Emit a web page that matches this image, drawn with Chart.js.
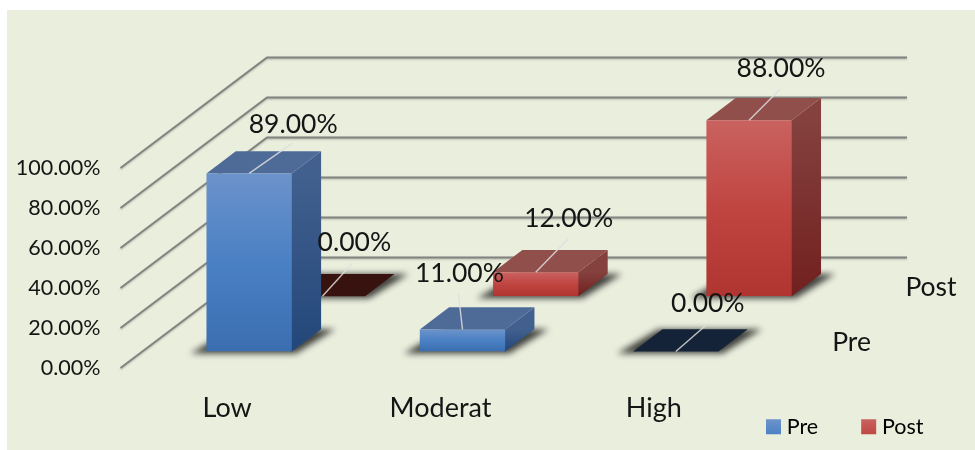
<!DOCTYPE html>
<html>
<head>
<meta charset="utf-8">
<style>
  html, body { margin: 0; background: #fff; }
  canvas { display: block; }
</style>
<script src="https://cdn.jsdelivr.net/npm/chart.js@4"></script>
</head>
<body>
<canvas id="chart" width="975" height="450"></canvas>
<script>
const categories = ['Low', 'Moderat', 'High'];
const seriesNames = ['Pre', 'Post'];
const preValues = [89, 11, 0];
const postValues = [0, 12, 88];
const yTicks = [0, 20, 40, 60, 80, 100];

const FONT = 'Lato, sans-serif';
const DEPTH_X = 146.5;  // how far the back wall sits from the floor's front edge
const DEPTH_Y = 110.5;
const BAR_DEPTH = 0.2;

const colors = [
  { front: ['#6c93cb', '#4a80c4', '#3a6eb1'], side: ['#41608e', '#23477a'], top: '#4e6b98', empty: '#152338' },
  { front: ['#c9625f', '#c04541', '#b0342f'], side: ['#84413e', '#71201f'], top: '#914f4c', empty: '#38120f' },
];

// [leader dx, leader dy, text dx, text dy] from the middle of each bar's top front edge
const labelOffsets = [
  [[43, -30, 44, -49], [-4, -35, -3, -56], [31, -27, 32, -48]],
  [[30, -33, 32, -54], [32, -33, 33, -54], [31, -31, 32, -52]],
];

function pct(v) {
  return v.toFixed(2) + '%';
}

function frontGradient(ctx) {
  const y = ctx.chart.scales.y;
  const v = ctx.dataset.data[ctx.dataIndex];
  const stops = colors[ctx.datasetIndex].front;
  const g = ctx.chart.ctx.createLinearGradient(0, y.getPixelForValue(v), 0, y.getPixelForValue(0));
  g.addColorStop(0, stops[0]);
  g.addColorStop(0.5, stops[1]);
  g.addColorStop(1, stops[2]);
  return g;
}

function poly(ctx, pts, fill) {
  ctx.beginPath();
  pts.forEach((p, i) => (i ? ctx.lineTo(p[0], p[1]) : ctx.moveTo(p[0], p[1])));
  ctx.closePath();
  ctx.fillStyle = fill;
  ctx.fill();
}

function rowDepth(datasetIndex) {
  return (datasetIndex + 0.5) / seriesNames.length - BAR_DEPTH / 2;
}

const threeD = {
  id: 'threeD',
  beforeDraw(chart) {
    const ctx = chart.ctx;
    ctx.save();
    ctx.fillStyle = '#eaeedd';
    ctx.fillRect(7, 10, 968, 440);
    ctx.restore();
  },
  afterLayout(chart) {
    // legend sits under the right end of the floor, outside the plot padding
    const l = chart.legend;
    l.left = 723;
    l.right = 975;
    l.top = 368;
  },
  beforeDatasetsDraw(chart) {
    const { ctx, scales: { x, y } } = chart;
    ctx.save();
    ctx.strokeStyle = '#828380';
    ctx.lineWidth = 1.8;
    ctx.shadowColor = 'rgba(0,0,0,0.25)';
    ctx.shadowBlur = 2;
    ctx.shadowOffsetY = 1;
    y.ticks.forEach((t) => {
      const py = y.getPixelForValue(t.value);
      ctx.beginPath();
      ctx.moveTo(x.left, py);
      ctx.lineTo(x.left + DEPTH_X, py - DEPTH_Y);
      ctx.lineTo(x.right + DEPTH_X, py - DEPTH_Y);
      ctx.stroke();
    });
    ctx.restore();
  },
  beforeDatasetDraw(chart, args) {
    const ctx = chart.ctx;
    const c = colors[args.index];
    const d0 = rowDepth(args.index);
    const fx = d0 * DEPTH_X, fy = d0 * DEPTH_Y;
    const bx = BAR_DEPTH * DEPTH_X, by = BAR_DEPTH * DEPTH_Y;
    args.meta.data.forEach((el, j) => {
      const l = el.x - el.width / 2 + fx, r = el.x + el.width / 2 + fx;
      const t = el.y - fy, b = el.base - fy;
      // soft shadow on the floor
      ctx.save();
      ctx.filter = 'blur(3px)';
      poly(ctx, [[l - 16, b + 2], [r + 4, b + 2], [r + bx + 14, b - by], [l + bx - 4, b - by]], 'rgba(0,0,0,0.72)');
      ctx.restore();
      const side = ctx.createLinearGradient(0, t, 0, b);
      side.addColorStop(0, c.side[0]);
      side.addColorStop(1, c.side[1]);
      // runs a pixel under the front face so the shadow can't show through the seam
      if (b - t > 0.5) poly(ctx, [[r - 1, t], [r, t], [r + bx, t - by], [r + bx, b - by], [r, b], [r - 1, b]], side);
      const v = chart.data.datasets[args.index].data[j];
      poly(ctx, [[l, t], [l + bx, t - by], [r + bx, t - by], [r, t]], v === 0 ? c.empty : c.top);
    });
    // the library draws the front faces, moved forward along the depth axis
    ctx.save();
    ctx.translate(fx, -fy);
  },
  afterDatasetDraw(chart) {
    chart.ctx.restore();
  },
  afterDatasetsDraw(chart) {
    const { ctx, scales: { x, y } } = chart;
    ctx.save();
    ctx.textAlign = 'center';
    ctx.textBaseline = 'middle';
    chart.data.datasets.forEach((ds, i) => {
      const d0 = rowDepth(i);
      chart.getDatasetMeta(i).data.forEach((el, j) => {
        const o = labelOffsets[i][j];
        const px = el.x + d0 * DEPTH_X, py = el.y - d0 * DEPTH_Y;
        ctx.strokeStyle = 'rgba(222,222,222,0.85)';
        ctx.lineWidth = 1.4;
        ctx.beginPath();
        ctx.moveTo(px, py);
        ctx.lineTo(px + o[0], py + o[1]);
        ctx.stroke();
        ctx.fillStyle = '#151515';
        ctx.font = '26.5px ' + FONT;
        ctx.fillText(pct(ds.data[j]), px + o[2], py + o[3]);
      });
    });
    // depth axis names next to the floor
    ctx.textAlign = 'left';
    ctx.font = '26.5px ' + FONT;
    seriesNames.forEach((name, i) => {
      const d = (i + 0.5) / seriesNames.length;
      ctx.fillText(name, x.right + d * DEPTH_X + 35, y.getPixelForValue(0) - d * DEPTH_Y + 2);
    });
    ctx.restore();
  },
};

new Chart(document.getElementById('chart'), {
  type: 'bar',
  data: {
    labels: categories,
    datasets: [
      { label: seriesNames[0], data: preValues, backgroundColor: frontGradient },
      { label: seriesNames[1], data: postValues, backgroundColor: frontGradient },
    ],
  },
  options: {
    responsive: false,
    animation: false,
    layout: { padding: { top: 168, right: 214.5, bottom: 0, left: 0 } },
    datasets: {
      bar: {
        grouped: false,
        categoryPercentage: 0.4,
        barPercentage: 1,
        borderWidth: 0,
      },
    },
    scales: {
      x: {
        grid: { display: false },
        border: { display: false },
        ticks: { color: '#151515', font: { family: FONT, size: 27 }, padding: 16, maxRotation: 0 },
        afterFit(s) { s.height = 72; },
      },
      y: {
        min: 0,
        max: 100,
        afterBuildTicks(s) { s.ticks = yTicks.map((v) => ({ value: v })); },
        grid: { display: false },
        border: { display: false },
        ticks: { color: '#151515', font: { family: FONT, size: 21.5 }, padding: 12, callback: (v) => pct(v) },
        afterFit(s) { s.width = 120.5; },
      },
    },
    plugins: {
      colors: { enabled: false },
      tooltip: { enabled: false },
      legend: {
        position: 'bottom',
        align: 'start',
        maxHeight: 10,
        labels: {
          // small box with a wide stroke gets the 15px swatch with a 5px gap to the text
          boxWidth: 5,
          boxHeight: 5,
          padding: 48,
          color: '#151515',
          font: { family: FONT, size: 21.5 },
          generateLabels(chart) {
            return seriesNames.map((name, i) => {
              const g = chart.ctx.createLinearGradient(0, 420, 0, 435);
              g.addColorStop(0, colors[i].front[0]);
              g.addColorStop(1, colors[i].front[1]);
              return { text: name, fillStyle: g, strokeStyle: g, lineWidth: 10, datasetIndex: i, hidden: false };
            });
          },
        },
      },
    },
  },
  plugins: [threeD],
});
</script>
</body>
</html>
